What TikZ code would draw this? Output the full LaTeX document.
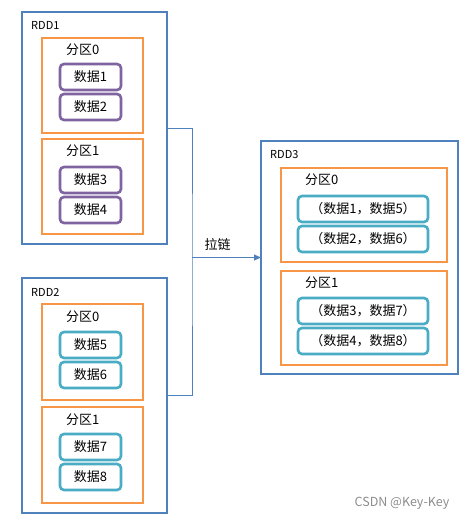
\documentclass[tikz,border=0pt]{standalone}
\usepackage{fontspec}
\setmainfont{Noto Sans CJK SC}
\usetikzlibrary{arrows.meta, positioning}
\definecolor{rddblue}{RGB}{79, 129, 189}
\definecolor{partorange}{RGB}{247, 150, 70}
\definecolor{datapurple}{RGB}{128, 100, 162}
\definecolor{datateal}{RGB}{75, 172, 198}

\begin{document}
\begin{tikzpicture}[
            x=1pt, y=1pt,
            node distance=4pt,
            rddbox/.style={draw=rddblue, line width=2.8pt, fill=white, minimum width=145pt, minimum height=232pt, inner sep=0pt, outer sep=0pt},
            rddlabel/.style={anchor=west, inner sep=0pt, font=\fontsize{11}{13}\selectfont},
            partbox/.style={draw=partorange, line width=2.8pt, minimum width=101pt, minimum height=95pt, inner sep=0pt, outer sep=0pt},
            partlabel/.style={anchor=west, inner sep=0pt, font=\fontsize{13}{15}\selectfont},
            databox/.style={draw=#1, line width=2.6pt, rounded corners=4pt, minimum width=61pt, minimum height=26pt, inner sep=0pt, outer sep=0pt, font=\fontsize{13}{15}\selectfont},
            link/.style={rddblue, line width=0.9pt},
            arrow/.style={link, -{Triangle[length=7pt, width=6pt]}}
        ]
            \useasboundingbox (0,0) rectangle (459,-520);

            \coordinate (zip) at (192,-257.5);

            \node[rddbox] (rdd1) at (94.5,-128) {};
            \node[rddbox, minimum height=235pt] (rdd2) at (94.5,-395.5) {};
            \node[rddbox, minimum width=197pt, minimum height=233pt] (rdd3) at (359.5,-257.5) {};

            \draw[link] (rdd1.east) -| (zip) |- (rdd2.east);
            \draw[arrow] (zip) -- node[above=3pt, pos=0.37, text=black, font=\fontsize{13}{15}\selectfont] (ziplbl) {拉链} (rdd3.west);

            \node[rddlabel] (rdd1lbl) at ([xshift=9pt, yshift=-13pt]rdd1.north west) {RDD1};
            \node[partbox, below=26pt of rdd1.north, xshift=-2pt] (p10) {};
            \node[partbox, below=6pt of p10] (p11) {};
            \node[partlabel] (p10lbl) at ([xshift=24pt, yshift=-12pt]p10.north west) {分区0};
            \node[partlabel] (p11lbl) at ([xshift=24pt, yshift=-12pt]p11.north west) {分区1};
            \node[databox=datapurple, below=26pt of p10.north, xshift=-2pt] (d1) {数据1};
            \node[databox=datapurple, below=of d1] (d2) {数据2};
            \node[databox=datapurple, below=28pt of p11.north, xshift=-2pt] (d3) {数据3};
            \node[databox=datapurple, below=of d3] (d4) {数据4};

            \node[rddlabel] (rdd2lbl) at ([xshift=9pt, yshift=-14pt]rdd2.north west) {RDD2};
            \node[partbox, minimum height=96pt, below=26pt of rdd2.north, xshift=-2pt] (p20) {};
            \node[partbox, minimum height=96pt, below=7pt of p20] (p21) {};
            \node[partlabel] (p20lbl) at ([xshift=24pt, yshift=-13pt]p20.north west) {分区0};
            \node[partlabel] (p21lbl) at ([xshift=24pt, yshift=-13pt]p21.north west) {分区1};
            \node[databox=datateal, below=28pt of p20.north, xshift=-2pt] (d5) {数据5};
            \node[databox=datateal, below=of d5] (d6) {数据6};
            \node[databox=datateal, below=27pt of p21.north, xshift=-2pt] (d7) {数据7};
            \node[databox=datateal, below=of d7] (d8) {数据8};

            \node[rddlabel] (rdd3lbl) at ([xshift=9pt, yshift=-14pt]rdd3.north west) {RDD3};
            \node[partbox, minimum width=166pt, minimum height=94pt, below=27pt of rdd3.north, xshift=4.5pt] (p30) {};
            \node[partbox, minimum width=166pt, minimum height=94pt, below=9pt of p30] (p31) {};
            \node[partlabel] (p30lbl) at ([xshift=24pt, yshift=-12pt]p30.north west) {分区0};
            \node[partlabel] (p31lbl) at ([xshift=24pt, yshift=-12pt]p31.north west) {分区1};
            \node[databox=datateal, minimum width=130pt, below=28pt of p30.north, xshift=-1pt] (d15) {（数据1，数据5）};
            \node[databox=datateal, minimum width=130pt, below=of d15] (d26) {（数据2，数据6）};
            \node[databox=datateal, minimum width=130pt, below=27pt of p31.north, xshift=-1pt] (d37) {（数据3，数据7）};
            \node[databox=datateal, minimum width=130pt, below=of d37] (d48) {（数据4，数据8）};

            \node[text=black!45, font=\fontsize{12.5}{14}\selectfont] (mark) at (402,-503) {CSDN @Key-Key};
        \end{tikzpicture}
\end{document}
